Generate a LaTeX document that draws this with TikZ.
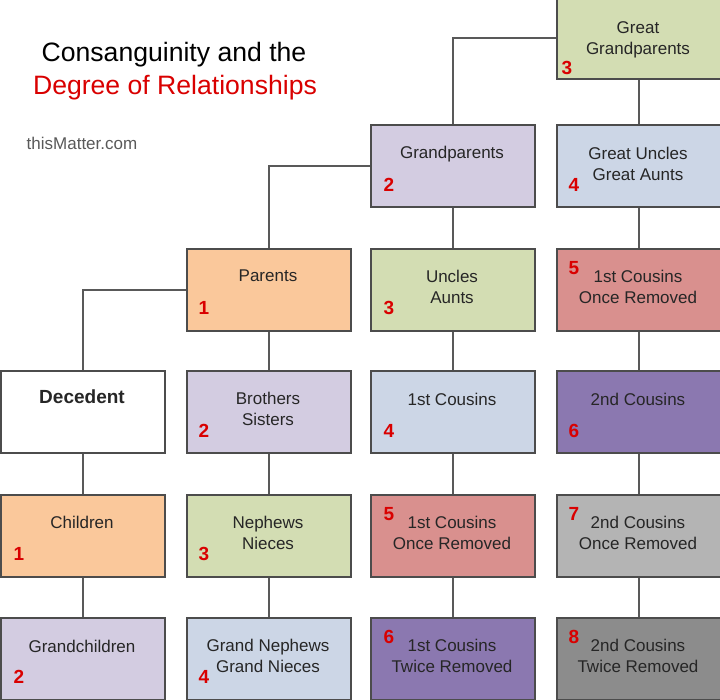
\documentclass[tikz,border=0pt]{standalone}
\usepackage{fontspec}
\setmainfont{Liberation Sans}
\begin{document}
\begin{tikzpicture}[x=0.5pt,y=-0.5pt,
 box/.style={draw=black!70,line width=1.2pt,minimum width=82pt,minimum height=41pt,anchor=north west,inner sep=0pt},
 lbl/.style={font=\fontsize{8.5}{10.5}\selectfont,align=center,text=black!85},
 num/.style={font=\bfseries\fontsize{9.5}{10}\selectfont,text=red!85!black},
 ln/.style={draw=black!65,line width=1.3pt}]
\definecolor{cOr}{HTML}{FAC89B}\definecolor{cLav}{HTML}{D3CCE1}\definecolor{cGr}{HTML}{D3DDB3}
\definecolor{cBl}{HTML}{CCD6E6}\definecolor{cRd}{HTML}{D9908E}\definecolor{cPu}{HTML}{8B78B0}
\definecolor{cGy}{HTML}{B4B4B4}\definecolor{cDg}{HTML}{8C8C8C}
\useasboundingbox (0,0) rectangle (720,700);
\node[font=\fontsize{13.3}{15}\selectfont] (t1) at (174,55) {Consanguinity and the};
\node[font=\fontsize{13.3}{15}\selectfont,text=red!85!black] (t2) at (175,88) {Degree of Relationships};
\node[font=\fontsize{8.5}{10}\selectfont,text=black!65] (t3) at (82,143) {thisMatter.com};
\foreach \n/\x/\y/\c in {gg/556/-4/cGr, gp/370/124/cLav, gu/556/124/cBl,
 pa/186/248/cOr, ua/370/248/cGr, c1r/556/248/cRd,
 de/0/370/white, bs/186/370/cLav, c1/370/370/cBl, c2/556/370/cPu,
 ch/0/494/cOr, nn/186/494/cGr, c1r2/370/494/cRd, c2r/556/494/cGy,
 gc/0/617/cLav, gn/186/617/cBl, c1tw/370/617/cPu, c2tw/556/617/cDg}
 \node[box,fill=\c] (\n) at (\x,\y) {};
\node[lbl] at (638,40) {Great\\Grandparents};
\node[lbl] at (452,154) {Grandparents};
\node[lbl] at (638,164) {Great Uncles\\Great Aunts};
\node[lbl] at (268,276) {Parents};
\node[lbl] at (452,287) {Uncles\\Aunts};
\node[lbl] at (638,287) {1st Cousins\\Once Removed};
\node[lbl,font=\bfseries\fontsize{9.5}{11}\selectfont] at (82,397) {Decedent};
\node[lbl] at (268,409) {Brothers\\Sisters};
\node[lbl] at (452,399) {1st Cousins};
\node[lbl] at (638,399) {2nd Cousins};
\node[lbl] at (82,522) {Children};
\node[lbl] at (268,533) {Nephews\\Nieces};
\node[lbl] at (452,533) {1st Cousins\\Once Removed};
\node[lbl] at (638,533) {2nd Cousins\\Once Removed};
\node[lbl] at (82,646) {Grandchildren};
\node[lbl] at (268,656) {Grand Nephews\\Grand Nieces};
\node[lbl] at (452,656) {1st Cousins\\Twice Removed};
\node[lbl] at (638,656) {2nd Cousins\\Twice Removed};
\foreach \x/\y/\t in {567/68/3, 389/185/2, 574/185/4, 204/308/1, 389/308/3, 574/268/5,
 204/431/2, 389/431/4, 574/431/6, 19/554/1, 204/554/3, 389/514/5, 574/514/7,
 19/677/2, 204/677/4, 389/637/6, 574/637/8}
 \node[num] at (\x,\y) {\t};
\draw[ln] (de.north) |- (pa.west);
\draw[ln] (pa.north) |- (gp.west);
\draw[ln] (gp.north) |- (gg.west);
\foreach \a/\b in {de/ch, ch/gc, pa/bs, bs/nn, nn/gn, gp/ua, ua/c1, c1/c1r2, c1r2/c1tw,
 gg/gu, gu/c1r, c1r/c2, c2/c2r, c2r/c2tw}
 \draw[ln] (\a.south) -- (\b.north);
\end{tikzpicture}
\end{document}
